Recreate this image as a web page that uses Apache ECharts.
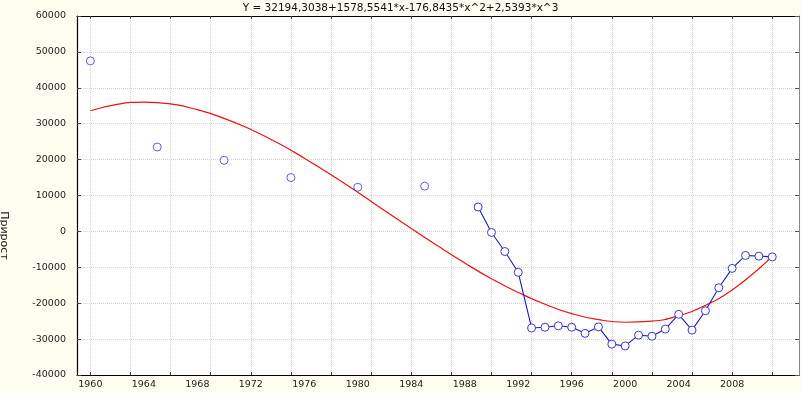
<!DOCTYPE html>
<html>
<head>
<meta charset="utf-8">
<script src="https://cdn.jsdelivr.net/npm/echarts@6/dist/echarts.min.js"></script>
<style>
  html, body { margin: 0; padding: 0; background: #fffcf0; }
  #chart { width: 801px; height: 393px; }
</style>
</head>
<body>
<div id="chart"></div>
<script>
// исходные точки (прирост по годам)
const earlyYears = [1960, 1965, 1970, 1975, 1980, 1985];
const earlyValues = [47500, 23500, 19800, 15000, 12300, 12600];

const lateYears = [1989, 1990, 1991, 1992, 1993, 1994, 1995, 1996, 1997, 1998, 1999, 2000,
  2001, 2002, 2003, 2004, 2005, 2006, 2007, 2008, 2009, 2010, 2011];
const lateValues = [6800, -300, -5600, -11400, -26900, -26700, -26300, -26700, -28400, -26600, -31400, -31900,
  -28900, -29200, -27200, -23100, -27500, -22100, -15700, -10300, -6700, -6900, -7100];

// подогнанная кривая
const fitYears = [1960, 1962, 1964, 1966, 1968, 1970, 1972, 1974, 1976, 1978, 1980, 1982, 1984,
  1986, 1988, 1990, 1992, 1994, 1996, 1998, 2000, 2002, 2004, 2006, 2008, 2010, 2011];
const fitValues = [33600, 35400, 36000, 35500, 33900, 31500, 28400, 24700, 20400, 15800, 10900, 5800, 800,
  -4100, -8800, -13200, -17000, -20300, -22900, -24600, -25300, -25000, -23500, -20600, -16300, -10400, -6900];

// шкала X: годы от 1959 до 2013
const axisYears = [];
for (let y = 1959; y <= 2013; y++) axisYears.push(String(y));

const titleText = 'Y = 32194,3038+1578,5541*x-176,8435*x^2+2,5393*x^3';
const yName = 'Прирост';

const font = 'DejaVu Sans';
const gridEvery3 = (i, v) => (Number(v) - 1960) % 3 === 0 && Number(v) >= 1960;
const labelEvery4 = (i, v) => (Number(v) - 1960) % 4 === 0 && Number(v) >= 1960 && Number(v) <= 2008;

const zip = (xs, ys) => xs.map((x, i) => [x, ys[i]]);

const chart = echarts.init(document.getElementById('chart'));
chart.setOption({
  backgroundColor: '#fffcf0',
  animation: false,
  title: {
    text: titleText,
    left: 'center',
    top: -2,
    textStyle: { fontFamily: font, fontSize: 10.5, fontWeight: 'normal', color: '#111' }
  },
  grid: {
    left: 77, top: 16, right: 2, bottom: 18,
    outerBoundsMode: 'none', containLabel: false,
    show: true, backgroundColor: '#fff', borderWidth: 0
  },
  xAxis: [
    { type: 'value', min: 1959, max: 2013, show: false },
    {
      type: 'category', data: axisYears, boundaryGap: false, position: 'bottom',
      axisLine: { onZero: false, lineStyle: { color: '#000', width: 1.2 } },
      axisTick: { inside: true, length: 3, interval: gridEvery3, lineStyle: { color: '#444' } },
      axisLabel: { interval: labelEvery4, fontFamily: font, fontSize: 9.5, color: '#222', margin: 5 },
      splitLine: { show: true, interval: gridEvery3, lineStyle: { color: '#d4d4d4', type: 'dotted' } }
    },
    {
      type: 'category', data: axisYears, boundaryGap: false, position: 'top',
      axisLine: { onZero: false, lineStyle: { color: '#000', width: 1 } },
      axisTick: { inside: true, length: 3, interval: gridEvery3, lineStyle: { color: '#444' } },
      axisLabel: { show: false },
      splitLine: { show: false }
    }
  ],
  yAxis: [
    {
      type: 'value', min: -40000, max: 60000, interval: 10000, position: 'left',
      name: yName, nameLocation: 'middle', nameRotate: -90, nameGap: 68,
      nameTextStyle: { fontFamily: font, fontSize: 11, color: '#222', padding: [0, 0, 0, 80] },
      axisLine: { show: true, lineStyle: { color: '#000', width: 1.2 } },
      axisTick: { show: true, inside: true, length: 4, lineStyle: { color: '#444' } },
      axisLabel: { fontFamily: font, fontSize: 9.5, color: '#222', margin: 11, formatter: v => String(v) },
      splitLine: { show: true, lineStyle: { color: '#d4d4d4', type: 'dotted' } }
    },
    {
      type: 'value', min: -40000, max: 60000, interval: 10000, position: 'right',
      axisLine: { show: true, lineStyle: { color: '#888', width: 1 } },
      axisTick: { show: true, inside: true, length: 4, lineStyle: { color: '#555' } },
      axisLabel: { show: false },
      splitLine: { show: false }
    }
  ],
  series: [
    {
      type: 'line', name: 'fit', xAxisIndex: 0, yAxisIndex: 0,
      data: zip(fitYears, fitValues), smooth: true, showSymbol: false,
      lineStyle: { color: '#ee1111', width: 1.2 }, z: 2
    },
    {
      type: 'scatter', xAxisIndex: 0, yAxisIndex: 0,
      data: zip(earlyYears, earlyValues), symbol: 'circle', symbolSize: 8,
      itemStyle: { color: '#fff', borderColor: '#3a3acc', borderWidth: 1 }, z: 3
    },
    {
      type: 'line', xAxisIndex: 0, yAxisIndex: 0,
      data: zip(lateYears, lateValues), symbol: 'circle', symbolSize: 8, showSymbol: true,
      lineStyle: { color: '#1a1ac0', width: 1.1 },
      itemStyle: { color: '#fff', borderColor: '#3a3acc', borderWidth: 1 }, z: 3
    }
  ]
});
</script>
</body>
</html>
